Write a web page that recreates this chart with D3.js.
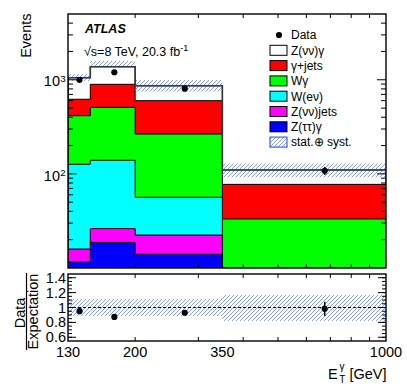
<!DOCTYPE html>
<html><head><meta charset="utf-8">
<script src="https://cdn.jsdelivr.net/npm/d3@7"></script>
<style>body{margin:0;background:#fff} svg{display:block} text{font-family:"Liberation Sans",Arial,Helvetica,sans-serif;fill:#000}</style>
</head><body><svg id="c" width="407" height="391"></svg>
<script>
// ---------- data ----------
const binEdges = [130, 150, 200, 350, 1000];
const binCenters = [140, 175, 275, 675];
const xTickLabels = [130, 200, 350, 1000];
const seriesKeys = ["zttg", "znnjets", "wenu", "wgamma", "gjets", "znng"];
const seriesNames = ["Z(ττ)γ", "Z(νν)jets", "W(eν)", "Wγ", "γ+jets", "Z(νν)γ"];
const seriesColors = ["#0000ff", "#ff00ff", "#00ffff", "#00ff00", "#ff0000", "#ffffff"];
const zttg    = [11.6, 18.7, 14.0, 0.5];
const znnjets = [4.3, 7.5, 8.4, 0.5];
const wenu    = [110.6, 113.4, 34.0, 3.0];
const wgamma  = [288.5, 370.4, 208.6, 29.2];
const gjets   = [206, 385, 335, 44.2];
const znng    = [431, 482, 265, 32.6];
const dataEvents = [1000, 1202, 804, 108];
const dataErr    = [32, 35, 28, 10.4];
const bandUp     = [0.10, 0.15, 0.15, 0.18];
const bandDown   = [0.08, 0.02, 0.135, 0.17];
const ratioBandUp   = [0.115, 0.115, 0.115, 0.17];
const ratioBandDown = [0.115, 0.115, 0.115, 0.18];
const yMajorTicks = [100, 1000];
const yMinorTicks = [20,30,40,50,60,70,80,90,200,300,400,500,600,700,800,900,2000,3000,4000];
const xMinorTicks = [200,300,400,500,600,700,800,900];
const rMajorTicks = [0.6, 0.8, 1.0, 1.2, 1.4];
const rTickLabels = ["0.6", "0.8", "1", "1.2", "1.4"];
const rMinorTicks = [0.6,0.65,0.7,0.75,0.8,0.85,0.9,0.95,1.0,1.05,1.1,1.15,1.2,1.25,1.3,1.35,1.4];

// ---------- layout ----------
const L = 68, Rt = 386, T = 14, B = 268, RT = 274, RB = 341;
const HATCH = "#7890ee";
const svg = d3.select("#c");
const X = d3.scaleLog().domain([130, 1000]).range([L, Rt]);
const Y = d3.scaleLog().domain([10, 5000]).range([B, T]);
const Rs = d3.scaleLinear().domain([0.55, 1.45]).range([RB, RT]);

const defs = svg.append("defs");
defs.append("clipPath").attr("id", "clipMain").append("rect").attr("x", L).attr("y", T).attr("width", Rt - L).attr("height", B - T);
defs.append("clipPath").attr("id", "clipRatio").append("rect").attr("x", L).attr("y", RT).attr("width", Rt - L).attr("height", RB - RT);

let hid = 0;
function hatchRect(parent, x, y, w, h) {
  const id = "hc" + (hid++);
  defs.append("clipPath").attr("id", id).append("rect").attr("x", x).attr("y", y).attr("width", w).attr("height", h);
  const g = parent.append("g").attr("clip-path", `url(#${id})`);
  const step = 4;
  const yb = y + h, yt = y;
  const cMin = Math.floor((x + yt) / step) * step + 1;
  const cMax = x + w + yb + step;
  for (let c = cMin; c <= cMax; c += step) {
    g.append("line").attr("x1", c - yb).attr("y1", yb).attr("x2", c - yt).attr("y2", yt)
      .attr("stroke", HATCH).attr("stroke-width", 0.9);
  }
}

const rows = binCenters.map((c, i) => ({zttg: zttg[i], znnjets: znnjets[i], wenu: wenu[i], wgamma: wgamma[i], gjets: gjets[i], znng: znng[i]}));
const stacked = d3.stack().keys(seriesKeys)(rows);
const total = stacked[stacked.length - 1].map(d => d[1]);

function stepD(vals, close) {
  let d = `M${X(binEdges[0])},${B}`;
  vals.forEach((v, i) => { d += `V${Y(v)}H${X(binEdges[i + 1])}`; });
  if (close) d += `V${B}Z`;
  return d;
}

const gm = svg.append("g").attr("clip-path", "url(#clipMain)");
for (let k = stacked.length - 1; k >= 0; k--) {
  gm.append("path").attr("d", stepD(stacked[k].map(d => d[1]), true))
    .attr("fill", seriesColors[k]).attr("stroke", "#000").attr("stroke-width", 1);
}
// uncertainty band
total.forEach((d, i) => {
  const x0 = X(binEdges[i]), x1 = X(binEdges[i + 1]);
  const y0 = Y(d * (1 + bandUp[i])), y1 = Y(d * (1 - bandDown[i]));
  hatchRect(gm, x0, y0, x1 - x0, y1 - y0);
});
// total line
gm.append("path").attr("d", stepD(total, false)).attr("fill", "none")
  .attr("stroke", "#3a3a3a").attr("stroke-width", 1.6);
// data
gm.selectAll("line.err").data(dataEvents).enter().append("line")
  .attr("x1", (d, i) => X(binCenters[i])).attr("x2", (d, i) => X(binCenters[i]))
  .attr("y1", (d, i) => Y(d + dataErr[i])).attr("y2", (d, i) => Y(d - dataErr[i]))
  .attr("stroke", "#000").attr("stroke-width", 1.5);
gm.selectAll("circle.pt").data(dataEvents).enter().append("circle")
  .attr("cx", (d, i) => X(binCenters[i])).attr("cy", d => Y(d)).attr("r", 3.1).attr("fill", "#000");

// ---------- ratio panel ----------
const gr = svg.append("g").attr("clip-path", "url(#clipRatio)");
ratioBandUp.forEach((u, i) => {
  const x0 = X(binEdges[i]), x1 = X(binEdges[i + 1]);
  const y0 = Rs(1 + u), y1 = Rs(1 - ratioBandDown[i]);
  hatchRect(gr, x0, y0, x1 - x0, y1 - y0);
});
gr.append("line").attr("x1", L).attr("x2", Rt).attr("y1", Rs(1)).attr("y2", Rs(1))
  .attr("stroke", "#000").attr("stroke-width", 1.2).attr("stroke-dasharray", "3,2");
const ratio = dataEvents.map((d, i) => d / total[i]);
const ratioErr = dataErr.map((e, i) => e / total[i]);
gr.selectAll("line.rerr").data(ratio).enter().append("line")
  .attr("x1", (d, i) => X(binCenters[i])).attr("x2", (d, i) => X(binCenters[i]))
  .attr("y1", (d, i) => Rs(d + ratioErr[i])).attr("y2", (d, i) => Rs(d - ratioErr[i]))
  .attr("stroke", "#000").attr("stroke-width", 1.5);
gr.selectAll("circle.rp").data(ratio).enter().append("circle")
  .attr("cx", (d, i) => X(binCenters[i])).attr("cy", d => Rs(d)).attr("r", 3.1).attr("fill", "#000");

// ---------- frames & ticks ----------
const ax = svg.append("g").attr("stroke", "#000").attr("stroke-width", 1);
function hTick(y, len) { ax.append("line").attr("x1", L).attr("x2", L + len).attr("y1", y).attr("y2", y); ax.append("line").attr("x1", Rt).attr("x2", Rt - len).attr("y1", y).attr("y2", y); }
function vTick(x, top, bot, len) { ax.append("line").attr("x1", x).attr("x2", x).attr("y1", top).attr("y2", top + len); ax.append("line").attr("x1", x).attr("x2", x).attr("y1", bot).attr("y2", bot - len); }
yMajorTicks.forEach(v => hTick(Y(v), 9));
yMinorTicks.forEach(v => hTick(Y(v), 5));
xMinorTicks.forEach(v => { vTick(X(v), T, B, 4); vTick(X(v), RT, RB, 4); });
rMinorTicks.forEach(v => hTick(Rs(v), 4));
rMajorTicks.forEach(v => hTick(Rs(v), 8));
svg.append("rect").attr("x", L).attr("y", T).attr("width", Rt - L).attr("height", B - T).attr("fill", "none").attr("stroke", "#000").attr("stroke-width", 1.4);
svg.append("rect").attr("x", L).attr("y", RT).attr("width", Rt - L).attr("height", RB - RT).attr("fill", "none").attr("stroke", "#000").attr("stroke-width", 1.4);

// ---------- tick labels ----------
yMajorTicks.forEach(v => {
  svg.append("text").attr("x", 60).attr("y", Y(v) + 6.7).attr("text-anchor", "end").attr("font-size", 14.5).text("10");
  svg.append("text").attr("x", 60.3).attr("y", Y(v) + 1.8).attr("font-size", 9.8).text(String(Math.round(Math.log10(v))));
});
rMajorTicks.forEach((v, i) => {
  svg.append("text").attr("x", 66).attr("y", Rs(v) + 5).attr("text-anchor", "end").attr("font-size", 14.5).text(rTickLabels[i]);
});
xTickLabels.forEach(v => {
  svg.append("text").attr("x", X(v)).attr("y", 357).attr("text-anchor", "middle").attr("font-size", 14.5).text(String(v));
});

// ---------- axis titles ----------
svg.append("text").attr("transform", "translate(31,13.5) rotate(-90)").attr("text-anchor", "end").attr("font-size", 14.5).text("Events");
svg.append("text").attr("transform", "translate(25,313) rotate(-90)").attr("text-anchor", "middle").attr("font-size", 14.5).text("Data");
svg.append("text").attr("transform", "translate(37.8,311.5) rotate(-90)").attr("text-anchor", "middle").attr("font-size", 14.5).text("Expectation");
svg.append("line").attr("x1", 26.5).attr("x2", 26.5).attr("y1", 273).attr("y2", 350).attr("stroke", "#000").attr("stroke-width", 1.2);
svg.append("text").attr("x", 328).attr("y", 378.5).attr("font-size", 14.5).text("E");
svg.append("text").attr("x", 339.5).attr("y", 369.5).attr("font-size", 10).text("γ");
svg.append("text").attr("x", 339.3).attr("y", 383).attr("font-size", 10).text("T");
svg.append("text").attr("x", 386.5).attr("y", 378.5).attr("text-anchor", "end").attr("font-size", 14.5).text("[GeV]");

// ---------- labels ----------
svg.append("text").attr("x", 85).attr("y", 33).attr("font-size", 12.5).attr("font-weight", "bold").attr("font-style", "italic").text("ATLAS");
const lum = svg.append("text").attr("x", 84).attr("y", 55.5).attr("font-size", 12.5);
lum.append("tspan").text("√s=8 TeV, 20.3 fb");
lum.append("tspan").attr("dy", -5).attr("font-size", 9).text("-1");

// ---------- legend ----------
const legY0 = 35, legDY = 15.3;
const lg = svg.append("g");
lg.append("circle").attr("cx", 279).attr("cy", legY0).attr("r", 3.1).attr("fill", "#000");
lg.append("text").attr("x", 291).attr("y", legY0).attr("dy", "0.36em").attr("font-size", 12).text("Data");
for (let j = 0; j < seriesNames.length; j++) {
  const k = seriesNames.length - 1 - j;
  const yy = legY0 + legDY * (j + 1);
  lg.append("rect").attr("x", 270).attr("y", yy - 5).attr("width", 17).attr("height", 10)
    .attr("fill", seriesColors[k]).attr("stroke", "#000").attr("stroke-width", 1);
  lg.append("text").attr("x", 291).attr("y", yy).attr("dy", "0.36em").attr("font-size", 12).text(seriesNames[k]);
}
const ys = legY0 + legDY * 7;
hatchRect(lg, 270, ys - 5, 17, 10);
lg.append("rect").attr("x", 270).attr("y", ys - 5).attr("width", 17).attr("height", 10)
  .attr("fill", "none").attr("stroke", "#3f63e0").attr("stroke-width", 1.2);
lg.append("text").attr("x", 291).attr("y", ys).attr("dy", "0.36em").attr("font-size", 12).text("stat.⊕ syst.");
</script></body></html>
